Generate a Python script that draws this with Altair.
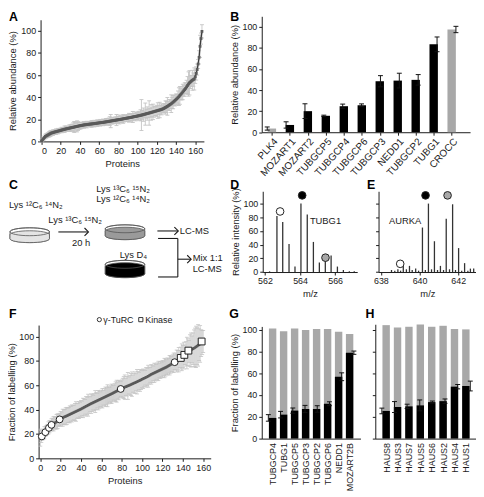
import json
import altair as alt
import pandas as pd

W, H = 474, 487
FONT = "Liberation Sans"
INK = "#1a1a1a"
BAR_GRAY = "#a8a8a8"
ERR_GRAY = "#c4c4c4"

# ---------------- data ----------------
A_val = [0.5, 1.5, 2.5, 3.5, 4.5, 5, 5.5, 6, 6.5, 7,
         7.5, 7.8, 8, 8.3, 8.6, 8.8, 9, 9.3, 9.5, 9.8,
         10, 10.3, 10.5, 10.7, 11, 11.2, 11.4, 11.6, 11.8, 12,
         12.2, 12.4, 12.6, 12.8, 13, 13.2, 13.4, 13.6, 13.8, 14,
         14.2, 14.4, 14.5, 14.7, 14.9, 15, 15.1, 15.2, 15.4, 15.5,
         15.6, 15.7, 15.8, 15.9, 16, 16.1, 16.2, 16.4, 16.5, 16.6,
         16.8, 16.9, 17, 17.1, 17.2, 17.4, 17.5, 17.7, 17.8, 18,
         18.1, 18.3, 18.4, 18.6, 18.7, 18.9, 19, 19.2, 19.3, 19.5,
         19.6, 19.8, 19.9, 20.1, 20.2, 20.4, 20.6, 20.7, 20.9, 21.1,
         21.2, 21.4, 21.6, 21.7, 21.9, 22.1, 22.3, 22.5, 22.6, 22.8,
         23, 23.2, 23.4, 23.6, 23.8, 24, 24.2, 24.5, 24.7, 25,
         25.2, 25.4, 25.7, 25.9, 26.2, 26.4, 26.7, 26.9, 27.2, 27.4,
         27.7, 27.9, 28.2, 28.4, 28.7, 29, 29.3, 29.7, 30.2, 30.7,
         31.2, 31.7, 32.3, 32.9, 33.5, 34.1, 34.8, 35.5, 36.3, 37.1,
         37.9, 38.7, 39.6, 40.5, 41.6, 42.6, 43.6, 44.7, 45.8, 46.9,
         48, 49.3, 50.6, 51.9, 53, 53.8, 54.6, 55.3, 55.9, 56.5,
         58.5, 61.5, 65, 70, 76, 86, 93, 99.5]
A_err = [1, 1, 1.5, 1.5, 2, 2, 2, 2, 2.5, 2.5,
         2.5, 2, 2.5, 2, 2, 2.5, 2, 2.5, 2, 2,
         2, 2.5, 2, 2, 3, 2, 2.5, 2, 2, 3,
         2.5, 3, 3, 4, 5, 4, 3, 5, 4, 3,
         3, 3, 2.5, 2, 3, 2, 2.5, 3, 2, 2,
         2.5, 2, 3, 2.5, 2, 3, 2, 2.5, 3, 2.5,
         2, 3, 2.5, 2, 3, 2.5, 2, 3, 3, 2,
         3, 4, 6, 3, 2.5, 3, 2, 3, 5, 3,
         3, 4, 3, 2.5, 3, 4, 3, 2.5, 3, 3,
         3, 4, 3, 3.5, 3, 5, 3, 3, 4, 3,
         3, 4, 3, 5, 14, 4, 6, 3, 10, 4,
         6, 4, 11, 4, 7, 4, 7, 5, 4, 4,
         5, 7, 4, 7, 4, 5, 3, 4, 4, 6,
         5, 8, 4, 5, 4, 8, 5, 6, 4, 5,
         5, 4, 6, 8, 8, 5, 6, 7, 5, 6,
         5, 6, 8, 11, 11, 6, 5, 9, 6, 10,
         6, 6, 5, 4, 6, 10, 5, 6]

B_names = ["PLK4", "MOZART1", "MOZART2", "TUBGCP5", "TUBGCP4", "TUBGCP6",
           "TUBGCP3", "NEDD1", "TUBGCP2", "TUBG1", "CROCC"]
B_val = [3.5, 6.9, 20, 15.6, 24.7, 25.6, 48.4, 49, 49.7, 83.4, 97.5]
B_err = [1.5, 3, 7, 0.6, 2, 1.3, 5.3, 7, 5, 7, 3]
B_gray = ["PLK4", "CROCC"]

D_mz = [562.26, 562.68, 563.01, 563.37, 563.71, 564.05, 564.41, 564.76,
        565.10, 565.44, 565.77, 566.13, 566.47, 566.81, 567.09]
D_int = [1, 82, 73, 41, 8, 100, 84, 44, 14, 24, 24, 8, 3, 1, 1]
D_mark_mz = [562.86, 564.12, 565.45]
D_mark_int = [88.5, 112, 21]
D_label = "TUBG1"

E_mz = [638.55, 638.72, 638.88, 639.02, 639.16, 639.32, 639.48, 639.62, 639.8,
        639.95, 640.15, 640.3, 640.46, 640.62, 640.77, 640.93, 641.08, 641.24,
        641.38, 641.55, 641.71, 641.86, 642.02, 642.18, 642.33, 642.5, 642.63, 642.8]
E_int = [3, 2, 4, 2, 14, 4, 9, 3, 5, 2, 65, 3, 100, 4, 45, 3, 9, 3,
         78, 4, 99, 3, 35, 2, 13, 2, 5, 5]
E_mark_mz = [639.0, 640.31, 641.45]
E_mark_int = [12, 112, 112]
E_label = "AURKA"
MARK_FILLS = ["white", "black", "#a8a8a8"]

F_val = [17, 18, 19, 20, 21, 22, 23, 24, 25, 26,
         26.8, 27.5, 28, 28.5, 29, 29.5, 30, 30.6, 31.2, 32,
         32.5, 33, 33.4, 33.8, 34.2, 34.5, 34.9, 35.3, 35.7, 36.1,
         36.5, 36.9, 37.3, 37.7, 38.1, 38.5, 38.9, 39.3, 39.7, 40.1,
         40.5, 41, 41.4, 41.9, 42.3, 42.8, 43.2, 43.7, 44.1, 44.6,
         45, 45.4, 45.8, 46.2, 46.6, 47, 47.4, 47.8, 48.2, 48.6,
         49, 49.4, 49.8, 50.2, 50.6, 51, 51.4, 51.8, 52.2, 52.6,
         53, 53.4, 53.9, 54.3, 54.8, 55.2, 55.7, 56.1, 56.6, 57,
         57.4, 57.8, 58.1, 58.5, 58.8, 59.2, 59.5, 59.9, 60.2, 60.6,
         61, 61.4, 61.8, 62.1, 62.5, 62.9, 63.3, 63.7, 64.1, 64.5,
         65, 65.4, 65.8, 66.2, 66.6, 67, 67.5, 68, 68.5, 69,
         69.4, 69.8, 70.2, 70.6, 71, 71.4, 71.8, 72.2, 72.6, 73,
         73.4, 73.8, 74.2, 74.6, 75, 75.5, 76, 76.5, 77, 77.5,
         78, 78.5, 79, 79.5, 80, 80.5, 81, 81.7, 82.4, 83,
         83.7, 84.4, 85.1, 85.8, 86.5, 87.2, 87.9, 88.5, 89, 89.5,
         90, 90.5, 91, 91.6, 92.2, 92.8, 93.4, 94, 94.6, 95.2,
         96]
F_err = [7, 5, 4, 4, 5, 4, 4, 4, 5, 5,
         4, 5, 5, 6, 5, 5, 6, 6, 5, 5,
         6, 5, 7, 6, 6, 7, 7, 6, 6, 7,
         6, 7, 6, 6, 7, 8, 6, 6, 7, 6,
         7, 6, 8, 7, 6, 8, 7, 9, 7, 6,
         8, 7, 6, 7, 9, 7, 6, 8, 7, 6,
         7, 8, 6, 7, 8, 7, 9, 7, 6, 7,
         8, 7, 6, 7, 8, 9, 7, 8, 7, 6,
         7, 8, 9, 10, 7, 8, 11, 7, 8, 9,
         10, 7, 8, 9, 7, 10, 8, 7, 9, 8,
         7, 8, 7, 6, 8, 7, 9, 7, 6, 8,
         7, 6, 8, 7, 6, 7, 8, 6, 7, 6,
         7, 6, 8, 7, 6, 7, 6, 8, 7, 6,
         7, 8, 6, 7, 9, 8, 10, 7, 9, 11,
         9, 11, 8, 10, 13, 11, 9, 13, 14, 11,
         13, 15, 16, 17, 15, 17, 13, 15, 11, 10,
         9]
F_turc_idx = [1.5, 5, 8.5, 11, 19, 79, 132]
F_turc_val = [18, 21.5, 25, 27.5, 32, 57, 79]
F_kin_idx = [138, 141.5, 145.5, 158.5]
F_kin_val = [82.5, 85, 88.5, 96]

G_names = ["TUBGCP4", "TUBG1", "TUBGCP5", "TUBGCP3", "TUBGCP2", "TUBGCP6", "NEDD1", "MOZART2B"]
G_lab = [19, 22, 25.7, 27.2, 27.2, 32, 56.8, 78.9]
G_err = [3, 3, 2.4, 3.3, 3, 1.8, 3.6, 1.5]
G_total = [101.2, 98.5, 101.2, 99.7, 100.6, 100.6, 98.2, 96]

H_names = ["HAUS8", "HAUS3", "HAUS7", "HAUS5", "HAUS6", "HAUS2", "HAUS4", "HAUS1"]
H_lab = [25.4, 29, 29.6, 30.5, 33.5, 34.4, 47.7, 48.3]
H_err = [2.6, 5, 2, 5, 1, 2, 2, 4.5]
H_total = [104.2, 102, 102.7, 104.8, 102.7, 103.6, 100.6, 100.3]

TICKS_100 = [0, 20, 40, 60, 80, 100]

# ---------------- helpers (page pixel -> chart pixel is p - 8) ----------------
def sx(domain, p0, p1):
    return alt.Scale(domain=list(domain), range=[p0 - 8, p1 - 8], nice=False, zero=False)


def sy(domain, pb, pt):
    return alt.Scale(domain=list(domain), range=[pb - 8, pt - 8], nice=False, zero=False)


PXS = sx([8, 482], 8, 482)
PYS = alt.Scale(domain=[8, 495], range=[0, 487], nice=False, zero=False)

AXSTYLE = dict(grid=False, domainColor=INK, tickColor=INK, labelColor=INK, titleColor=INK,
               labelFont=FONT, titleFont=FONT, labelFontSize=9, titleFontSize=9.5,
               titleFontWeight="normal", tickSize=3, domainWidth=1, tickWidth=1, labelPadding=2)


def left_axis(xp, **kw):
    d = dict(AXSTYLE)
    d.update(kw)
    return alt.Axis(orient="left", offset=-(xp - 8), **d)


def bottom_axis(yp, **kw):
    d = dict(AXSTYLE)
    d.update(kw)
    return alt.Axis(orient="bottom", offset=(yp - 8) - H, **d)


def qx(field, scale, axis=None):
    return alt.X(field, type="quantitative", scale=scale, axis=axis)


def qy(field, scale, axis=None):
    return alt.Y(field, type="quantitative", scale=scale, axis=axis)


def errbars(df, xcol, lo, hi, xs, ys, color, cap, width=1.0):
    rule = alt.Chart(df).mark_rule(color=color, strokeWidth=width, opacity=1).encode(
        x=qx(xcol, xs), y=qy(lo, ys), y2=alt.Y2(hi))
    capdf = pd.concat([df[[xcol, lo]].rename(columns={lo: "cy"}),
                       df[[xcol, hi]].rename(columns={hi: "cy"})], ignore_index=True)
    caps = alt.Chart(capdf).mark_tick(orient="horizontal", size=cap, thickness=width,
                                      color=color, opacity=1).encode(
        x=qx(xcol, xs), y=qy("cy", ys))
    return [rule, caps]


def page_text(rows, **mk):
    df = pd.DataFrame(rows, columns=["x", "y", "t"])
    opts = dict(font=FONT, color=INK, fontSize=9.5, baseline="middle")
    opts.update(mk)
    return alt.Chart(df).mark_text(**opts).encode(
        x=qx("x", PXS), y=qy("y", PYS), text=alt.Text("t:N"))


layers = []

# ---------------- Panel A ----------------
dfA = pd.DataFrame({"i": list(range(len(A_val))), "v": A_val, "e": A_err})
dfA["lo"] = dfA["v"] - dfA["e"]
dfA["hi"] = dfA["v"] + dfA["e"]
sxA = sx([-1, 169], 41, 206.4)
syA = sy([0, 110], 140, 16.8)
layers += errbars(dfA, "i", "lo", "hi", sxA, syA, ERR_GRAY, 4, 0.9)
layers.append(alt.Chart(dfA).mark_line(color="#3c3c3c", strokeWidth=1.3).encode(
    x=qx("i", sxA, bottom_axis(140, values=list(range(0, 161, 20)), title="Proteins", titlePadding=3)),
    y=qy("v", syA, left_axis(41, values=TICKS_100, title="Relative abundance (%)", titlePadding=3))))
layers.append(alt.Chart(dfA).mark_square(size=8, color="#5a5a5a", opacity=1).encode(
    x=qx("i", sxA), y=qy("v", syA)))

# ---------------- Panel B ----------------
dfB = pd.DataFrame({"i": list(range(len(B_names))), "name": B_names, "v": B_val, "e": B_err})
dfB["lo"] = dfB["v"] - dfB["e"]
dfB["hi"] = dfB["v"] + dfB["e"]
dfB["base"] = 0
dfB["col"] = ["#a8a8a8" if n in B_gray else "#000000" for n in B_names]
sxB = sx([-0.29, 10.75], 265, 476)
syB = sy([0, 110], 130.7, 13.3)
labexB = json.dumps(B_names) + "[datum.value]"
layers.append(alt.Chart(dfB).mark_bar(size=8.5, orient="vertical", opacity=1).encode(
    x=qx("i", sxB, bottom_axis(130.7, values=list(range(len(B_names))), labelExpr=labexB,
                              labelAngle=-48, labelAlign="right", labelBaseline="top",
                              labelOverlap=False, title=None, labelFontSize=10, labelPadding=1)),
    y=qy("v", syB, left_axis(265, values=TICKS_100, title="Relative abundance (%)", titlePadding=3)),
    y2=alt.Y2("base"),
    color=alt.Color("col:N", scale=None)))
layers += errbars(dfB, "i", "lo", "hi", sxB, syB, "#111111", 5)

# ---------------- Panel C (schematic, page coordinates) ----------------
K = 0.5523


def ell_top(c, r):
    return (f"M-1,{c} C-1,{c - K * r} -{K},{c - r} 0,{c - r} "
            f"C{K},{c - r} 1,{c - K * r} 1,{c} ")


def ell_bottom_back(c, r):
    return f"C1,{c + K * r} {K},{c + r} 0,{c + r} C-{K},{c + r} -1,{c + K * r} -1,{c} Z"


def dish_layers(cx, cy, d, t, fill):
    r = 0.2
    body = ell_top(0, r) + f"L1,{d} " + ell_bottom_back(d, r)
    liquid = ell_top(t, r) + f"L1,{d} " + ell_bottom_back(d, r)
    rim = ell_top(0, r) + ell_bottom_back(0, r)
    df = pd.DataFrame({"x": [cx], "y": [cy]})
    out = []
    for shape, f, filled in [(body, "white", True), (liquid, fill, True), (rim, None, False)]:
        if filled:
            mk = alt.Chart(df).mark_point(shape=shape, size=1600, filled=True, fill=f,
                                          stroke="#555555", strokeWidth=0.8, opacity=1)
        else:
            mk = alt.Chart(df).mark_point(shape=shape, size=1600, filled=False,
                                          stroke="#555555", strokeWidth=0.8, opacity=1)
        out.append(mk.encode(x=qx("x", PXS), y=qy("y", PYS)))
    return out


layers += dish_layers(30, 231.5, 0.35, 0.15, "#e4e4e4")
layers += dish_layers(126.5, 228.5, 0.35, 0.12, "#9a9a9a")
layers += dish_layers(126.5, 264.5, 0.475, 0.12, "#000000")

C_rules = pd.DataFrame({
    "x": [59, 159.3, 160, 180, 160, 180],
    "x2": [89, 180, 180, 180, 180, 193],
    "y": [231.7, 230.7, 238.3, 238.3, 277.3, 259.3],
    "y2": [231.7, 230.7, 238.3, 277.3, 277.3, 259.3],
})
layers.append(alt.Chart(C_rules).mark_rule(color=INK, strokeWidth=1.1).encode(
    x=qx("x", PXS), x2=alt.X2("x2"), y=qy("y", PYS), y2=alt.Y2("y2")))
C_heads = pd.DataFrame({"x": [89.5, 180.5, 193.5], "y": [231.7, 230.7, 259.3]})
layers.append(alt.Chart(C_heads).mark_point(shape="M-1,-1L0,0L-1,1", size=64, filled=False,
                                            stroke=INK, strokeWidth=1.1, opacity=1).encode(
    x=qx("x", PXS), y=qy("y", PYS)))
layers.append(page_text([
    (76, 219.5, "Lys ¹³C₆ ¹⁵N₂"),
    (82, 242.5, "20 h"),
    (124.5, 188.5, "Lys ¹³C₆ ¹⁵N₂"),
    (124.5, 198.5, "Lys ¹²C₆ ¹⁴N₂"),
    (135, 255, "Lys D₄"),
], align="center"))
layers.append(page_text([
    (9, 204.3, "Lys ¹²C₆ ¹⁴N₂"),
    (182, 231, "LC-MS"),
    (195, 258.5, "Mix 1:1"),
    (195, 269.5, "LC-MS"),
], align="left"))

# ---------------- Panel D ----------------
sxD = sx([561.87, 567.26], 266, 361.7)
syD = sy([0, 118], 272.3, 190.5)
dfD = pd.DataFrame({"mz": D_mz, "v": D_int, "base": 0})
layers.append(alt.Chart(dfD).mark_rule(color="#333333", strokeWidth=1.3).encode(
    x=qx("mz", sxD, bottom_axis(272.3, values=[562, 564, 566], title="m/z", titlePadding=3)),
    y=qy("base", syD, left_axis(266, values=TICKS_100, title="Relative intensity (%)", titlePadding=3)),
    y2=alt.Y2("v")))
dfDm = pd.DataFrame({"mz": D_mark_mz, "v": D_mark_int, "f": MARK_FILLS})
layers.append(alt.Chart(dfDm).mark_point(shape="circle", size=60, filled=True, stroke="#222222",
                                         strokeWidth=1, opacity=1).encode(
    x=qx("mz", sxD), y=qy("v", syD), color=alt.Color("f:N", scale=None)))
layers.append(alt.Chart(pd.DataFrame({"mz": [565.45], "v": [75], "t": [D_label]})).mark_text(
    font=FONT, fontSize=9.5, color=INK, align="center", baseline="middle").encode(
    x=qx("mz", sxD), y=qy("v", syD), text=alt.Text("t:N")))

# ---------------- Panel E ----------------
sxE = sx([637.88, 642.93], 383.3, 482.2)
syE = sy([0, 118], 272.3, 190.5)
dfE = pd.DataFrame({"mz": E_mz, "v": E_int, "base": 0})
layers.append(alt.Chart(dfE).mark_rule(color="#333333", strokeWidth=1.3).encode(
    x=qx("mz", sxE, bottom_axis(272.3, values=[638, 640, 642], title="m/z", titlePadding=3)),
    y=qy("base", syE, left_axis(383.3, values=TICKS_100, labels=False, title=None)),
    y2=alt.Y2("v")))
dfEm = pd.DataFrame({"mz": E_mark_mz, "v": E_mark_int, "f": MARK_FILLS})
layers.append(alt.Chart(dfEm).mark_point(shape="circle", size=60, filled=True, stroke="#222222",
                                         strokeWidth=1, opacity=1).encode(
    x=qx("mz", sxE), y=qy("v", syE), color=alt.Color("f:N", scale=None)))
layers.append(alt.Chart(pd.DataFrame({"mz": [639.25], "v": [75], "t": [E_label]})).mark_text(
    font=FONT, fontSize=9.5, color=INK, align="center", baseline="middle").encode(
    x=qx("mz", sxE), y=qy("v", syE), text=alt.Text("t:N")))

# ---------------- Panel F ----------------
dfF = pd.DataFrame({"i": list(range(len(F_val))), "v": F_val, "e": F_err})
dfF["lo"] = dfF["v"] - dfF["e"]
dfF["hi"] = dfF["v"] + dfF["e"]
sxF = sx([-1.65, 167.4], 39, 213.3)
syF = sy([0, 109.5], 461, 326)
layers += errbars(dfF, "i", "lo", "hi", sxF, syF, ERR_GRAY, 4, 0.8)
layers.append(alt.Chart(dfF).mark_line(color="#404040", strokeWidth=1.2).encode(
    x=qx("i", sxF, bottom_axis(461, values=list(range(0, 161, 20)), title="Proteins", titlePadding=3)),
    y=qy("v", syF, left_axis(39, values=TICKS_100, title="Fraction of labelling (%)", titlePadding=2))))
layers.append(alt.Chart(dfF).mark_square(size=6, color="#5a5a5a", opacity=1).encode(
    x=qx("i", sxF), y=qy("v", syF)))
layers.append(alt.Chart(pd.DataFrame({"i": F_turc_idx, "v": F_turc_val})).mark_point(
    shape="circle", size=48, filled=True, fill="white", stroke="#222222", strokeWidth=1, opacity=1).encode(
    x=qx("i", sxF), y=qy("v", syF)))
layers.append(alt.Chart(pd.DataFrame({"i": F_kin_idx, "v": F_kin_val})).mark_point(
    shape="square", size=48, filled=True, fill="white", stroke="#222222", strokeWidth=1, opacity=1).encode(
    x=qx("i", sxF), y=qy("v", syF)))
# legend of F
leg = pd.DataFrame({"x": [100.5], "y": [320.5]})
layers.append(alt.Chart(leg).mark_point(shape="circle", size=18, filled=True, fill="white",
                                        stroke="#222222", strokeWidth=0.9, opacity=1).encode(
    x=qx("x", PXS), y=qy("y", PYS)))
leg2 = pd.DataFrame({"x": [142.5], "y": [320.5]})
layers.append(alt.Chart(leg2).mark_point(shape="square", size=18, filled=True, fill="white",
                                         stroke="#222222", strokeWidth=0.9, opacity=1).encode(
    x=qx("x", PXS), y=qy("y", PYS)))
layers.append(page_text([(104.5, 320.5, "γ-TuRC"), (147, 320.5, "Kinase")], align="left", fontSize=9))


# ---------------- Panels G & H ----------------
def stacked_panel(names, lab, err, total, xs, ys, xpage, ypage, ylabels, ytitle):
    df = pd.DataFrame({"i": list(range(len(names))), "lab": lab, "tot": total, "e": err, "base": 0})
    df["lo"] = df["lab"] - df["e"]
    df["hi"] = df["lab"] + df["e"]
    labex = json.dumps(names) + "[datum.value]"
    if ylabels:
        yax = left_axis(xpage, values=TICKS_100, title=ytitle, titlePadding=3)
    else:
        yax = left_axis(xpage, values=TICKS_100, labels=False, title=None)
    out = [alt.Chart(df).mark_bar(size=7.5, orient="vertical", color=BAR_GRAY, opacity=1).encode(
        x=qx("i", xs, bottom_axis(ypage, values=list(range(len(names))), labelExpr=labex,
                                 labelAngle=-90, title=None, labelFontSize=9, tickSize=0,
                                 labelPadding=4, labelOverlap=False)),
        y=qy("tot", ys, yax), y2=alt.Y2("base"))]
    out.append(alt.Chart(df).mark_bar(size=7.5, orient="vertical", color="#000000", opacity=1).encode(
        x=qx("i", xs), y=qy("lab", ys), y2=alt.Y2("base")))
    out += errbars(df, "i", "lo", "hi", xs, ys, "#111111", 5)
    return out


layers += stacked_panel(G_names, G_lab, G_err, G_total, sx([-0.54, 7.54], 265, 365),
                        sy([0, 103], 441, 327.4), 265, 441, True, "Fraction of labelling (%)")
layers += stacked_panel(H_names, H_lab, H_err, H_total, sx([-0.52, 7.43], 380, 481.7),
                        sy([0, 105], 441, 325.2), 380, 441, False, None)

# ---------------- panel letters ----------------
layers.append(page_text([
    (9, 14, "A"), (233, 14, "B"), (9, 184, "C"), (233, 184, "D"), (371.5, 184, "E"),
    (9, 315, "F"), (232, 315, "G"), (370, 315, "H"),
], align="left", fontSize=12.5, fontWeight="bold", color="#000000"))

chart = alt.layer(*layers).resolve_scale(x="independent", y="independent").resolve_axis(
    x="independent", y="independent").properties(
    width=W, height=H, autosize=alt.AutoSizeParams(type="none"), padding=0,
    background="white").configure_view(stroke=None)

chart.save("out.html", embed_options={"renderer": "svg", "actions": False})
